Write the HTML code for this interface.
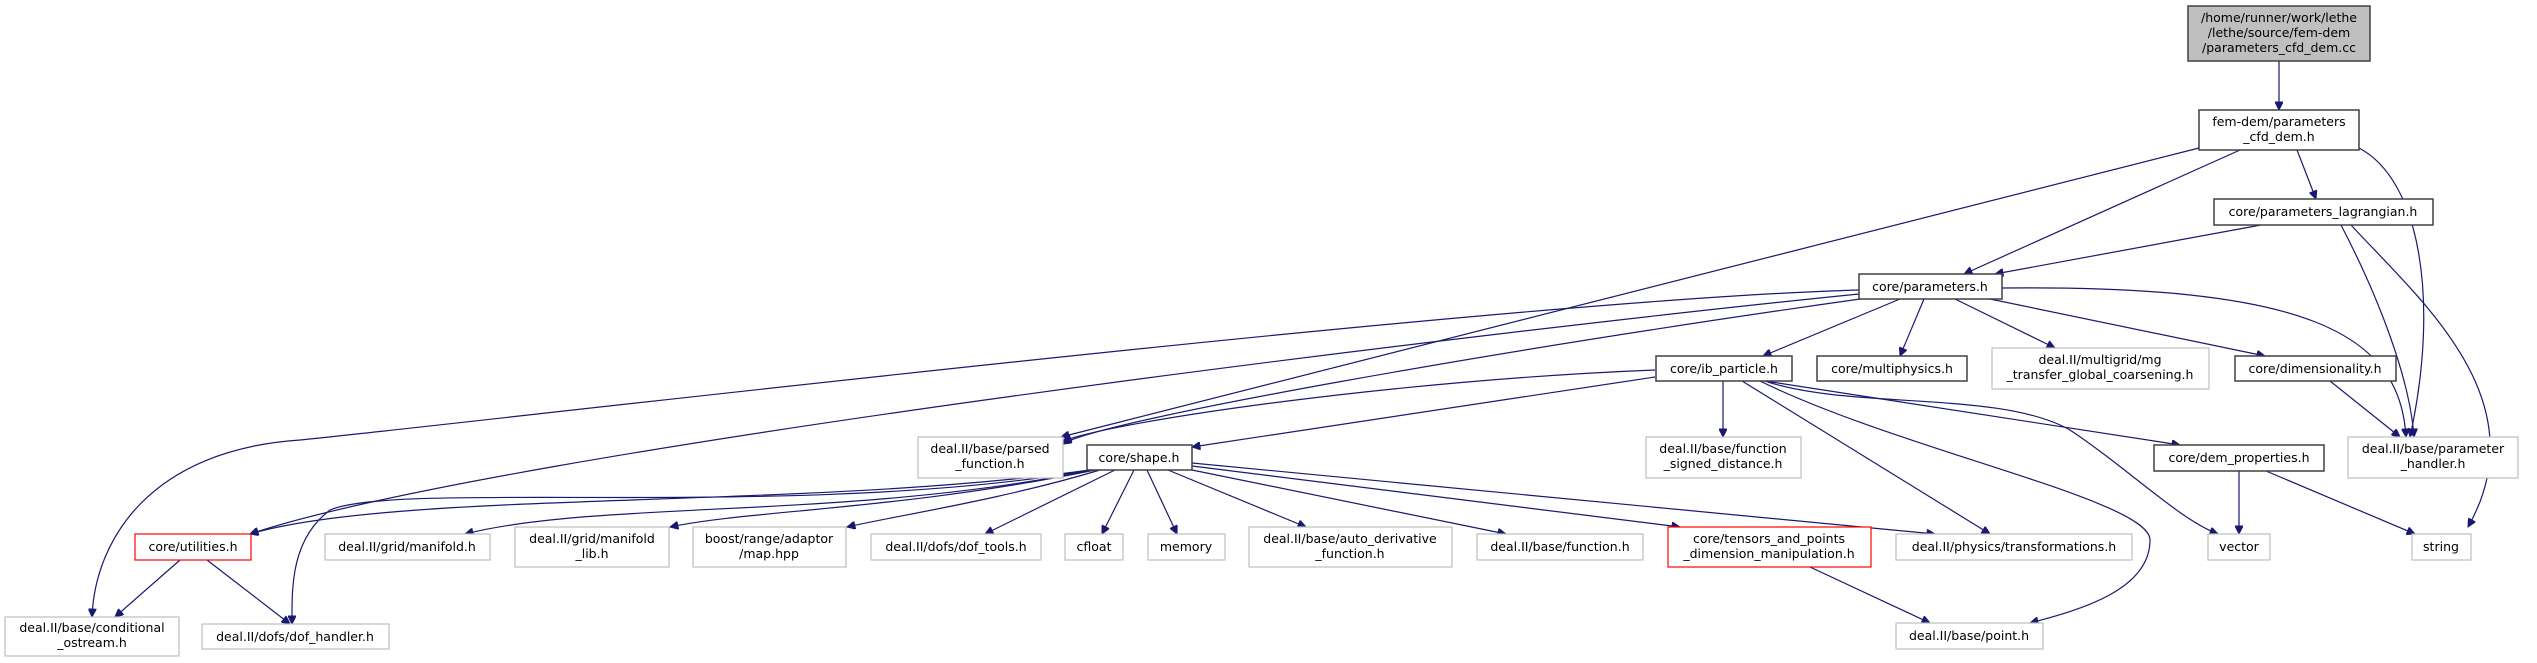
<!DOCTYPE html>
<html><head><meta charset="utf-8"><style>
html,body{margin:0;padding:0;background:#fff;}
svg{display:block;}
text{font-family:"DejaVu Sans","Liberation Sans",sans-serif;font-size:12.5px;fill:#000;text-anchor:middle;}
.d{fill:#fff;stroke:#404040;stroke-width:1.5}
.e{fill:#fff;stroke:#bfbfbf;stroke-width:1.2}
.r{fill:#fff;stroke:#ff0000;stroke-width:1.2}
path{fill:none;stroke:#191970;stroke-width:1.2}
</style></head><body>
<svg width="2537" height="663" viewBox="0 0 2537 663" xmlns="http://www.w3.org/2000/svg">
<defs><marker id="a" viewBox="0 0 10 10" refX="10" refY="5" markerWidth="10" markerHeight="8" markerUnits="userSpaceOnUse" orient="auto"><path d="M0,0 L10,5 L0,10 z" style="fill:#191970;stroke:#191970"/></marker></defs>
<g marker-end="url(#a)">
<path d="M2279,61 L2279,110"/>
<path d="M2199,148 L1061,437"/>
<path d="M2240,150 L1964,274"/>
<path d="M2297,150 L2316,199"/>
<path d="M2359,148 C2420,180 2440,300 2410,437"/>
<path d="M2261,225 L1995,274"/>
<path d="M2341,225 C2380,300 2410,380 2414,437"/>
<path d="M2351,225 C2420,300 2540,400 2468,527"/>
<path d="M1859,290 C1500,300 500,420 300,440 C150,450 95,540 92,617"/>
<path d="M1859,294 C1500,330 500,450 250,534"/>
<path d="M1860,299 C1500,350 1100,420 1063,444"/>
<path d="M1900,299 L1763,356"/>
<path d="M1924,299 L1900,356"/>
<path d="M1955,299 L2055,348"/>
<path d="M1990,299 L2265,356"/>
<path d="M2002,288 C2300,285 2400,330 2406,437"/>
<path d="M1655,370 C1400,380 1120,420 1063,441"/>
<path d="M1655,377 L1192,447"/>
<path d="M1723,381 L1723,437"/>
<path d="M1742,381 L1990,534"/>
<path d="M1760,381 C1900,450 2150,500 2150,540 C2150,590 2080,610 2030,623"/>
<path d="M1765,381 C1850,410 2000,390 2070,430 C2130,470 2180,520 2218,534"/>
<path d="M1765,381 L2180,445"/>
<path d="M2330,381 L2400,437"/>
<path d="M2239,471 L2239,534"/>
<path d="M2266,471 L2415,534"/>
<path d="M1090,470 C800,510 400,490 250,534"/>
<path d="M1092,470 C800,520 400,480 330,510 C290,540 292,590 292,624"/>
<path d="M1093,470 C850,520 600,500 465,534"/>
<path d="M1095,470 C900,510 750,510 670,527"/>
<path d="M1100,470 C1000,500 900,515 847,527"/>
<path d="M1115,470 L985,534"/>
<path d="M1134,470 L1102,534"/>
<path d="M1147,470 L1177,534"/>
<path d="M1168,470 L1306,527"/>
<path d="M1192,470 L1506,534"/>
<path d="M1192,466 L1680,527"/>
<path d="M1192,463 L1935,534"/>
<path d="M180,560 L115,617"/>
<path d="M207,560 L290,624"/>
<path d="M1810,567 L1930,623"/>
</g>
<rect x="2188" y="6" width="182" height="55" style="fill:#bfbfbf;stroke:#404040;stroke-width:1.5"/>
<text x="2279" y="22">/home/runner/work/lethe</text><text x="2279" y="37">/lethe/source/fem-dem</text><text x="2279" y="52">/parameters_cfd_dem.cc</text>
<rect class="d" x="2199" y="110" width="160" height="40"/><text x="2279" y="126">fem-dem/parameters</text><text x="2279" y="141">_cfd_dem.h</text>
<rect class="d" x="2214" y="199" width="219" height="26"/><text x="2323" y="216">core/parameters_lagrangian.h</text>
<rect class="d" x="1859" y="274" width="143" height="25"/><text x="1930" y="291">core/parameters.h</text>
<rect class="d" x="1656" y="356" width="136" height="25"/><text x="1724" y="373">core/ib_particle.h</text>
<rect class="d" x="1817" y="356" width="150" height="25"/><text x="1892" y="373">core/multiphysics.h</text>
<rect class="e" x="1992" y="348" width="217" height="41"/><text x="2100" y="364">deal.II/multigrid/mg</text><text x="2100" y="379">_transfer_global_coarsening.h</text>
<rect class="d" x="2235" y="356" width="161" height="25"/><text x="2315" y="373">core/dimensionality.h</text>
<rect class="e" x="918" y="437" width="145" height="41"/><text x="990" y="453">deal.II/base/parsed</text><text x="990" y="468">_function.h</text>
<rect class="d" x="1087" y="445" width="105" height="25"/><text x="1139" y="462">core/shape.h</text>
<rect class="e" x="1646" y="437" width="155" height="41"/><text x="1723" y="453">deal.II/base/function</text><text x="1723" y="468">_signed_distance.h</text>
<rect class="d" x="2154" y="445" width="170" height="26"/><text x="2239" y="462">core/dem_properties.h</text>
<rect class="e" x="2348" y="437" width="170" height="41"/><text x="2433" y="453">deal.II/base/parameter</text><text x="2433" y="468">_handler.h</text>
<rect class="r" x="135" y="534" width="116" height="26"/><text x="193" y="551">core/utilities.h</text>
<rect class="e" x="325" y="534" width="165" height="26"/><text x="407" y="551">deal.II/grid/manifold.h</text>
<rect class="e" x="515" y="527" width="154" height="40"/><text x="592" y="543">deal.II/grid/manifold</text><text x="592" y="558">_lib.h</text>
<rect class="e" x="693" y="527" width="153" height="40"/><text x="769" y="543">boost/range/adaptor</text><text x="769" y="558">/map.hpp</text>
<rect class="e" x="871" y="534" width="170" height="26"/><text x="956" y="551">deal.II/dofs/dof_tools.h</text>
<rect class="e" x="1065" y="534" width="58" height="26"/><text x="1094" y="551">cfloat</text>
<rect class="e" x="1148" y="534" width="77" height="26"/><text x="1186" y="551">memory</text>
<rect class="e" x="1249" y="527" width="203" height="40"/><text x="1350" y="543">deal.II/base/auto_derivative</text><text x="1350" y="558">_function.h</text>
<rect class="e" x="1477" y="534" width="166" height="26"/><text x="1560" y="551">deal.II/base/function.h</text>
<rect class="r" x="1668" y="527" width="203" height="40"/><text x="1769" y="543">core/tensors_and_points</text><text x="1769" y="558">_dimension_manipulation.h</text>
<rect class="e" x="1896" y="534" width="236" height="26"/><text x="2014" y="551">deal.II/physics/transformations.h</text>
<rect class="e" x="2208" y="534" width="62" height="26"/><text x="2239" y="551">vector</text>
<rect class="e" x="2412" y="534" width="59" height="26"/><text x="2441" y="551">string</text>
<rect class="e" x="5" y="617" width="174" height="39"/><text x="92" y="632">deal.II/base/conditional</text><text x="92" y="647">_ostream.h</text>
<rect class="e" x="202" y="624" width="187" height="25"/><text x="295" y="641">deal.II/dofs/dof_handler.h</text>
<rect class="e" x="1896" y="623" width="147" height="26"/><text x="1969" y="640">deal.II/base/point.h</text>
</svg>
</body></html>
